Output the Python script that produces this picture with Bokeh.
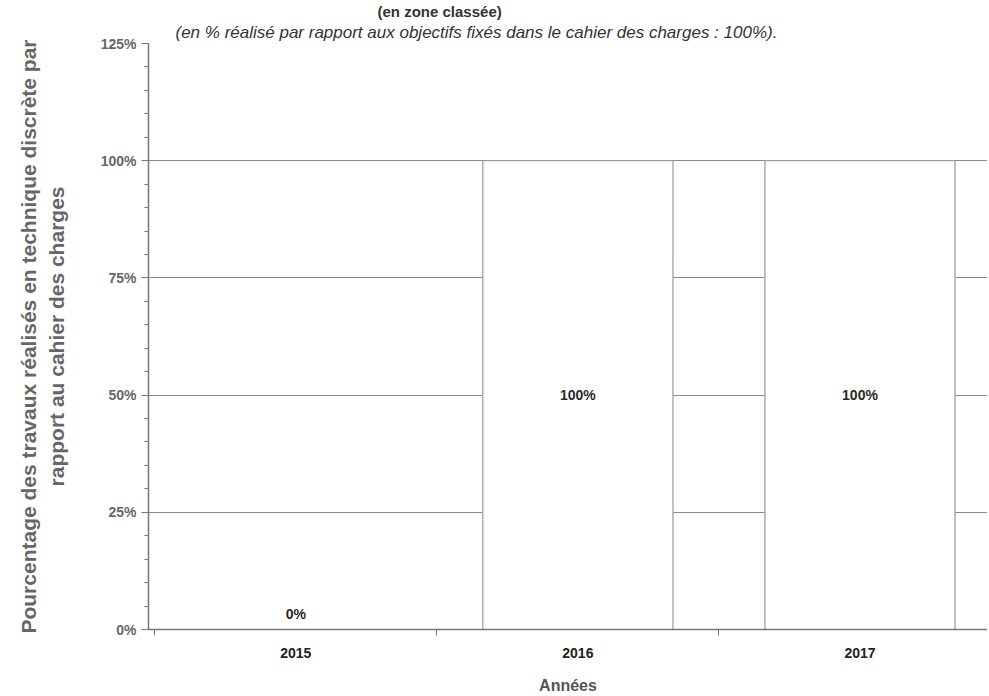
from bokeh.plotting import figure
from bokeh.models import Range1d, FixedTicker, ColumnDataSource, Title
from bokeh.core.properties import value
from bokeh.embed import file_html
from bokeh.resources import INLINE

years = ["2015", "2016", "2017"]
values = [0, 100, 100]
value_labels = ["0%", "100%", "100%"]
y_ticks = [0, 25, 50, 75, 100, 125]
y_minor = list(range(0, 126, 5))
grid_ticks = [25, 50, 75, 100]

FONT = "Liberation Sans"
xs = list(range(len(years)))
label_y = [v / 2 for v in values]
label_dy = [-16 if v == 0 else 0 for v in values]

src = ColumnDataSource(dict(x=xs, top=values, ly=label_y, dy=label_dy, txt=value_labels))

p = figure(width=987, height=696, x_range=Range1d(-0.522, 2.452), y_range=Range1d(0, 125),
           output_backend="svg", toolbar_location=None,
           min_border_left=148, min_border_right=0, min_border_bottom=65, min_border_top=0)
p.outline_line_color = None
p.background_fill_color = "white"

p.title.text = "(en zone classée)"
p.title.text_font = FONT
p.title.text_font_style = "bold"
p.title.text_font_size = "15px"
p.title.text_color = "#333333"
p.title.align = "left"
p.title.offset = 229
p.title.standoff = 0
t2 = Title(text="(en % réalisé par rapport aux objectifs fixés dans le cahier des charges : 100%).",
           text_font=FONT, text_font_style="italic", text_font_size="17px",
           text_color="#333333", align="left", offset=27, standoff=3)
p.add_layout(t2, "above")

p.vbar(x="x", top="top", bottom=0, width=0.674, source=src, fill_color="white",
       line_color="#9a9a9a", line_width=1.2)
p.text(x="x", y="ly", text="txt", y_offset="dy", source=src, text_align="center",
       text_baseline="middle", text_font=value(FONT), text_font_style="bold",
       text_font_size="14px", text_color="#2a2a2a")

p.xgrid.grid_line_color = None
p.ygrid.ticker = FixedTicker(ticks=grid_ticks)
p.ygrid.grid_line_color = "#8a8a8a"
p.ygrid.grid_line_width = 1.2
p.ygrid.level = "underlay"

xa = p.xaxis[0]
xa.ticker = FixedTicker(ticks=xs, minor_ticks=[i - 0.5 for i in range(len(years) + 1)])
xa.major_label_overrides = {i: y for i, y in enumerate(years)}
xa.major_tick_line_color = None
xa.major_tick_out = 0
xa.major_tick_in = 0
xa.minor_tick_line_color = "#777777"
xa.minor_tick_out = 6
xa.minor_tick_in = 0
xa.axis_line_color = "#777777"
xa.axis_line_width = 1.5
xa.major_label_text_font = FONT
xa.major_label_text_font_style = "bold"
xa.major_label_text_font_size = "14px"
xa.major_label_text_color = "#222222"
xa.major_label_standoff = 12
xa.axis_label = "Années"
xa.axis_label_text_font = FONT
xa.axis_label_text_font_style = "bold"
xa.axis_label_text_font_size = "16px"
xa.axis_label_text_color = "#555555"
xa.axis_label_standoff = 16

ya = p.yaxis[0]
ya.ticker = FixedTicker(ticks=y_ticks, minor_ticks=y_minor)
ya.major_label_overrides = {t: f"{t}%" for t in y_ticks}
ya.axis_line_color = "#777777"
ya.axis_line_width = 1.5
ya.major_tick_line_color = "#777777"
ya.major_tick_out = 7
ya.major_tick_in = 0
ya.minor_tick_line_color = "#777777"
ya.minor_tick_out = 4
ya.minor_tick_in = 0
ya.major_label_text_font = FONT
ya.major_label_text_font_style = "bold"
ya.major_label_text_font_size = "14px"
ya.major_label_text_color = "#666666"
ya.major_label_standoff = 5
ya.axis_label = "Pourcentage des travaux réalisés en technique discrète par\nrapport au cahier des charges"
ya.axis_label_text_font = FONT
ya.axis_label_text_font_style = "bold"
ya.axis_label_text_font_size = "21px"
ya.axis_label_text_color = "#666666"
ya.axis_label_standoff = 30

open("out.html", "w").write(file_html(p, INLINE))
